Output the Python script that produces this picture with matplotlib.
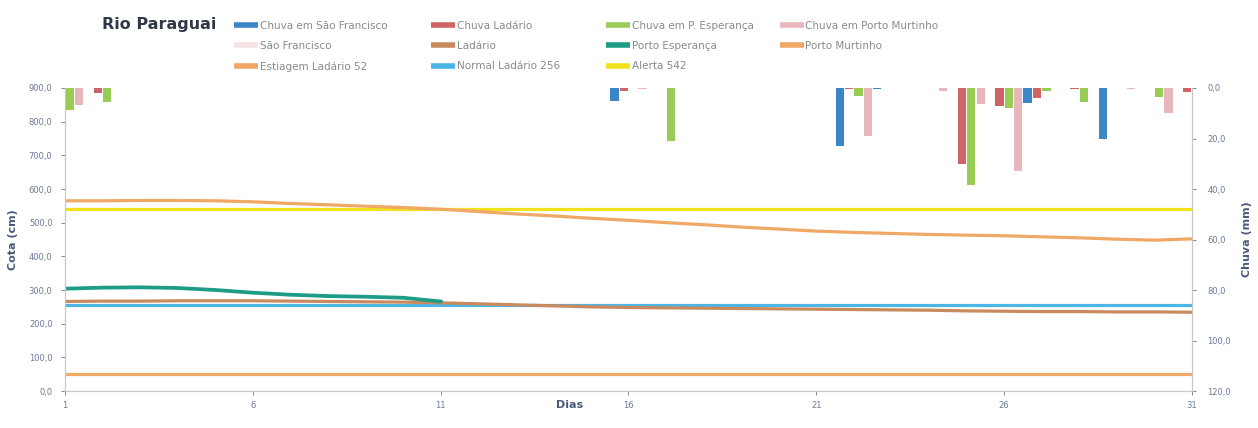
import matplotlib
matplotlib.use("Agg")
import matplotlib.pyplot as plt
from matplotlib.lines import Line2D
import numpy as np

# ---------------- data ----------------
days = list(range(1, 32))
x_ticks = [1, 6, 11, 16, 21, 26, 31]
cota_ticks = [0, 100, 200, 300, 400, 500, 600, 700, 800, 900]
chuva_ticks = [0, 20, 40, 60, 80, 100, 120]

chuva_sao_francisco = [0, 0, 0, 0, 0, 0, 0, 0, 0, 0, 0, 0, 0, 0, 0, 5, 0, 0, 0, 0,
                       0, 23, 0.5, 0, 0, 0, 6, 0, 20, 0, 0]
chuva_ladario = [0, 1.8, 0, 0, 0, 0, 0, 0, 0, 0, 0, 0, 0, 0, 0, 1.2, 0, 0, 0, 0,
                 0, 0.3, 0, 0, 30, 7, 4, 0.4, 0, 0, 1.5]
chuva_p_esperanca = [8.8, 5.6, 0, 0, 0, 0, 0, 0, 0, 0, 0, 0, 0, 0, 0, 0, 21, 0, 0, 0,
                     0, 3.2, 0, 0, 38.5, 8, 1, 5.5, 0, 3.5, 0]
chuva_porto_murtinho = [6.8, 0, 0, 0, 0, 0, 0, 0, 0, 0, 0, 0, 0, 0, 0, 0.4, 0, 0, 0, 0,
                        0, 19, 0, 1, 6.5, 33, 0, 0, 0.4, 10, 0]

sao_francisco = [None] * 31
ladario = [266, 267, 267, 268, 268, 268, 267, 266, 265, 264, 262, 259, 256, 253, 250, 248,
           247, 246, 245, 244, 243, 242, 241, 240, 238, 237, 236, 236, 235, 235, 234]
porto_esperanca = [304, 307, 308, 306, 300, 292, 286, 282, 280, 277, 266] + [None] * 20
porto_murtinho = [565, 565, 566, 566, 565, 562, 557, 553, 549, 545, 540, 533, 526, 520, 513,
                  507, 500, 494, 487, 481, 475, 471, 468, 465, 463, 461, 458, 455, 451, 448, 452]
estiagem_ladario = [52] * 31
normal_ladario = [256] * 31
alerta = [542] * 31

# ---------------- style ----------------
C_BLUE = "#3b86c6"
C_RED = "#cf6466"
C_GREEN = "#98cc55"
C_PINK = "#e8b7bc"
C_SF = "#f4e4e4"
C_LAD = "#c98a5e"
C_PE = "#1e9c86"
C_PM = "#f0a866"
C_EST = "#f2a868"
C_NORM = "#4cb6e6"
C_ALERT = "#f2e21c"
TICK_C = "#6a7a98"

def nan(v):
    return np.array([np.nan if a is None else a for a in v], dtype=float)

fig = plt.figure(figsize=(12.58, 4.28), dpi=100)
ax = fig.add_axes([0.0517, 0.0864, 0.8958, 0.7080])
ax2 = ax.twinx()

d = np.array(days, dtype=float)
lw = 2.3
ax.plot(d, nan(sao_francisco), color=C_SF, lw=lw)
ax.plot(d, nan(estiagem_ladario), color=C_EST, lw=lw)
ax.plot(d, nan(normal_ladario), color=C_NORM, lw=lw)
ax.plot(d, nan(alerta), color=C_ALERT, lw=lw)
ax.plot(d, nan(porto_murtinho), color=C_PM, lw=lw)
ax.plot(d, nan(ladario), color=C_LAD, lw=lw)
ax.plot(d, nan(porto_esperanca), color=C_PE, lw=lw + 0.4)

ax.set_xlim(1, 31)
ax.set_ylim(0, 900)
ax.set_xticks(x_ticks)
ax.set_xticklabels([str(t) for t in x_ticks])
ax.set_yticks(cota_ticks)
ax.set_yticklabels([f"{t},0" for t in cota_ticks])

pitch = 0.25
bw = 0.22
series = [(chuva_sao_francisco, C_BLUE, -1.5), (chuva_ladario, C_RED, -0.5),
          (chuva_p_esperanca, C_GREEN, 0.5), (chuva_porto_murtinho, C_PINK, 1.5)]
for vals, col, off in series:
    ax2.bar(d + off * pitch, vals, width=bw, color=col, edgecolor="none", zorder=3)
ax2.set_ylim(120, 0)
ax2.set_yticks(chuva_ticks)
ax2.set_yticklabels([f"{t},0" for t in chuva_ticks])

for a in (ax, ax2):
    a.spines["top"].set_visible(False)
    for s in ("left", "right", "bottom"):
        a.spines[s].set_color("#c8c8c8")
        a.spines[s].set_linewidth(0.8)
    a.tick_params(labelsize=6, colors=TICK_C, length=3, width=0.6)
ax.tick_params(axis="x", pad=4)
ax.tick_params(axis="y", pad=6)
ax2.tick_params(axis="y", pad=8)

ax.set_xlabel("Dias", fontsize=8, fontweight="bold", color="#4a5a7a")
ax.xaxis.set_label_coords(0.448, -0.03)
ax.set_ylabel("Cota (cm)", fontsize=8, fontweight="bold", color="#4a5a7a", labelpad=8)
ax2.set_ylabel("Chuva (mm)", fontsize=8, fontweight="bold", color="#4a5a7a", labelpad=8)

fig.text(0.081, 0.942, "Rio Paraguai", fontsize=11.5, fontweight="bold",
         color="#303848", va="center", ha="left")

def h(c):
    return Line2D([0], [0], color=c, lw=4, solid_capstyle="butt")

cols = [
    [("Chuva em São Francisco", C_BLUE), ("São Francisco", C_SF), ("Estiagem Ladário 52", C_EST)],
    [("Chuva Ladário", C_RED), ("Ladário", C_LAD), ("Normal Ladário 256", C_NORM)],
    [("Chuva em P. Esperança", C_GREEN), ("Porto Esperança", C_PE), ("Alerta 542", C_ALERT)],
    [("Chuva em Porto Murtinho", C_PINK), ("Porto Murtinho", C_PM)],
]
xs = [0.186, 0.343, 0.482, 0.620]
for (items, x0) in zip(cols, xs):
    leg = fig.legend([h(c) for _, c in items], [t for t, _ in items],
                     loc="upper left", bbox_to_anchor=(x0, 0.952), frameon=False,
                     fontsize=7.5, handlelength=2.3, handletextpad=0.15,
                     labelspacing=1.0, borderaxespad=0, borderpad=0)
    for t in leg.get_texts():
        t.set_color("#8a8a8a")

fig.savefig("out.png", dpi=100, facecolor="white")
